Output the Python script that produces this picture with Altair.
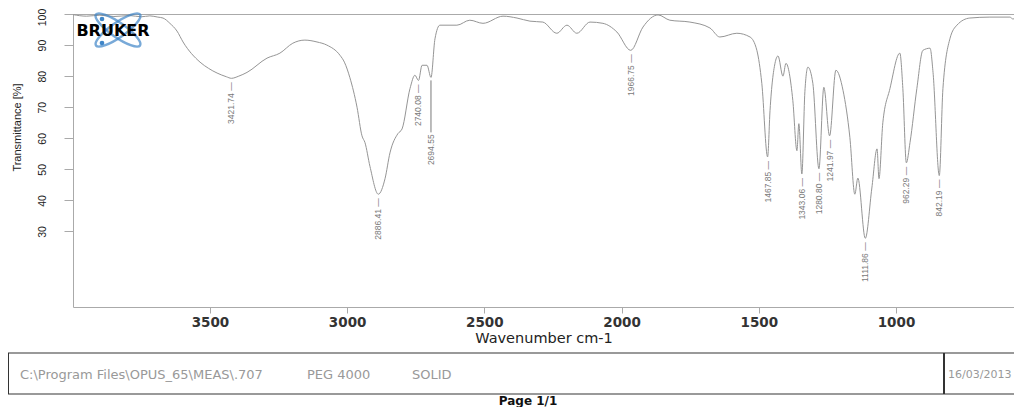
import altair as alt
import pandas as pd

# Spectrum
wavenumber = [3999, 3950, 3901, 3850, 3792, 3750, 3719, 3690, 3671, 3646, 3620, 3598,
              3536, 3505, 3474, 3440, 3421.74, 3395, 3365, 3292, 3245, 3198, 3154, 3110,
              3074, 3026, 3010, 2990, 2964, 2946, 2935, 2917, 2886.41, 2862, 2844, 2815,
              2800, 2771, 2753, 2740.08, 2727, 2709, 2694.55, 2680, 2662, 2600, 2553,
              2505, 2432, 2381, 2334, 2287, 2236, 2199, 2163, 2115, 2068, 2017, 1966.75,
              1922, 1867, 1824, 1751, 1678, 1642, 1580, 1532, 1507, 1489, 1467.85, 1459,
              1441, 1430, 1412, 1401, 1376, 1361, 1354, 1343.06, 1332, 1321, 1303,
              1280.80, 1263, 1241.97, 1219, 1193, 1168, 1150, 1139, 1111.86, 1088, 1069,
              1062, 1048, 1022, 986, 975, 962.29, 949, 924, 902, 876, 865, 842.19, 829,
              803, 778, 731, 658, 585, 574, 552]
transmittance = [99.8, 99.3, 99.6, 99.2, 99.5, 99.1, 99.4, 99.0, 98.7, 97.0, 94.5, 91.0,
                 84.5, 82.5, 81.0, 79.8, 79.3, 80.0, 81.2, 85.8, 87.4, 90.6, 91.6, 91.0,
                 90.0, 86.7, 84.5, 79.5, 70.0, 60.8, 58.6, 51.0, 42.0, 47.0, 55.3, 61.5,
                 63.0, 76.0, 80.3, 78.6, 83.5, 83.5, 79.6, 92.0, 96.4, 96.4, 98.0,
                 97.0, 99.3, 98.7, 97.7, 97.4, 93.8, 96.4, 93.8, 97.4, 97.0, 94.2, 88.3,
                 95.8, 99.7, 98.0, 97.4, 95.5, 92.6, 93.8, 92.6, 88.3, 77.7, 54.0, 69.0,
                 84.1, 86.5, 80.0, 84.1, 72.2, 56.0, 64.7, 48.5, 75.0, 82.9, 77.7,
                 50.2, 76.4, 60.8, 81.9, 75.4, 60.2, 42.0, 47.2, 27.8, 44.0, 56.6,
                 47.0, 65.0, 76.0, 87.4, 76.0, 52.1, 58.6, 76.0, 88.3, 89.0, 81.2, 48.0, 76.0,
                 92.2, 96.4, 98.7, 99.0, 99.0, 98.4, 99.3]

peak_wn = [3421.74, 2886.41, 2740.08, 1966.75, 1467.85, 1343.06, 1280.80, 1241.97,
           1111.86, 962.29, 842.19]
peak_t = [79.3, 42.0, 78.6, 88.3, 54.0, 48.5, 50.2, 60.8, 27.8, 52.1, 48.0]
peak_text = ["3421.74", "2886.41", "2740.08", "1966.75", "1467.85", "1343.06", "1280.80",
             "1241.97", "1111.86", "962.29", "842.19"]

far_wn = [2694.55]
far_t = [79.6]
far_text = ["2694.55"]

x_ticks = [3500, 3000, 2500, 2000, 1500, 1000]
y_ticks = [30, 40, 50, 60, 70, 80, 90, 100]

footer_texts = ["C:\\Program Files\\OPUS_65\\MEAS\\.707", "PEG 4000", "SOLID"]
date_text = "16/03/2013"
page_text = "Page 1/1"

NARROW = "Liberation Sans Narrow, Liberation Sans, Arial, sans-serif"
WIDE = "DejaVu Sans, Verdana, sans-serif"

spec = pd.DataFrame({"wavenumber": wavenumber, "transmittance": transmittance})
peaks = pd.DataFrame({"wavenumber": peak_wn, "transmittance": peak_t,
                      "label": [t + " \u2014" for t in peak_text]})
far = pd.DataFrame({"wavenumber": far_wn, "transmittance": far_t, "label": far_text})
one = pd.DataFrame({"a": [0]})

xscale = alt.Scale(domain=[3999, 570], nice=False, zero=False)
yscale = alt.Scale(domain=[5.7, 100], nice=False, zero=False)

xaxis = alt.Axis(values=x_ticks, format="d", grid=False, domain=False,
                 tickColor="#aaaaaa", tickSize=6, labelFont=WIDE, labelFontSize=13.5,
                 labelFontWeight="bold", labelColor="#333333", labelPadding=2,
                 title="Wavenumber cm-1", titleFont=WIDE, titleFontSize=14.5,
                 titleFontWeight="normal", titleColor="#222222",
                 titleBaseline="middle", titleY=31)
yaxis = alt.Axis(values=y_ticks, format="d", grid=False, domain=False,
                 tickColor="#aaaaaa", tickSize=9, labelFont=NARROW, labelFontSize=10.5,
                 labelColor="#222222", labelAngle=270, labelAlign="center",
                 labelBaseline="bottom", labelPadding=17,
                 labelOffset={"condition": {"test": "datum.value == 100", "value": 3}, "value": 0},
                 title="Transmittance [%]", titleFont=NARROW, titleFontSize=11,
                 titleFontWeight="normal", titleColor="#222222", titleAngle=270,
                 titleAlign="center", titleBaseline="middle", titleX=-56, titleY=113)

line = alt.Chart(spec).mark_line(color="#959595", strokeWidth=1, interpolate="monotone",
                                 clip=True).encode(
    x=alt.X("wavenumber:Q", scale=xscale, axis=xaxis),
    y=alt.Y("transmittance:Q", scale=yscale, axis=yaxis),
)

labels = alt.Chart(peaks).mark_text(
    angle=270, align="right", baseline="middle", font=NARROW, fontSize=8.5,
    color="#7a7a7a", yOffset=4
).encode(
    x=alt.X("wavenumber:Q", scale=xscale),
    y=alt.Y("transmittance:Q", scale=yscale),
    text="label:N",
)

far_rule = alt.Chart(far).mark_rule(color="#7a7a7a", strokeWidth=1, yOffset=3, y2Offset=55).encode(
    x=alt.X("wavenumber:Q", scale=xscale),
    y=alt.Y("transmittance:Q", scale=yscale),
    y2="transmittance:Q",
)
far_label = alt.Chart(far).mark_text(
    angle=270, align="right", baseline="middle", font=NARROW, fontSize=8.5,
    color="#7a7a7a", yOffset=57
).encode(
    x=alt.X("wavenumber:Q", scale=xscale),
    y=alt.Y("transmittance:Q", scale=yscale),
    text="label:N",
)

# Bruker logo
ELLIPSE = "M-1,0A1,0.27,0,1,0,1,0A1,0.27,0,1,0,-1,0Z"
logo_e1 = alt.Chart(one).mark_point(shape=ELLIPSE, filled=False, stroke="#3f86c8",
                                     strokeWidth=2.5, size=2900, angle=35).encode(
    x=alt.value(45), y=alt.value(16))
logo_e2 = alt.Chart(one).mark_point(shape=ELLIPSE, filled=False, stroke="#3f86c8",
                                     strokeWidth=2.5, size=2900, angle=145).encode(
    x=alt.value(45), y=alt.value(16))
logo_d1 = alt.Chart(one).mark_point(shape="circle", filled=True, color="#3f86c8",
                                     size=22, opacity=1).encode(x=alt.value(29), y=alt.value(5))
logo_d2 = alt.Chart(one).mark_point(shape="circle", filled=True, color="#3f86c8",
                                     size=22, opacity=1).encode(x=alt.value(29), y=alt.value(29))
logo_t = alt.Chart(one).mark_text(text="BRUKER", font=WIDE, fontSize=16, fontWeight="bold",
                                  color="#000000", align="center", baseline="middle").encode(
    x=alt.value(40), y=alt.value(17))


def hline(x1, x2, y, color, w):
    return alt.Chart(one).mark_rule(color=color, strokeWidth=w).encode(
        x=alt.value(x1), x2=alt.value(x2), y=alt.value(y))


def vline(x, y1, y2, color, w):
    return alt.Chart(one).mark_rule(color=color, strokeWidth=w).encode(
        x=alt.value(x), y=alt.value(y1), y2=alt.value(y2))


footer = [
    hline(-65, 945, 339, "#777777", 1.5),
    hline(-65, 945, 380, "#777777", 1.5),
    vline(-65, 339, 380, "#333333", 2),
    vline(871, 339, 380, "#333333", 2),
]
foot_x = [-53, 234, 339]
for t, fx in zip(footer_texts, foot_x):
    footer.append(alt.Chart(one).mark_text(text=t, font=WIDE, fontSize=13, color="#999999",
                                           align="left", baseline="middle").encode(
        x=alt.value(fx), y=alt.value(361)))
footer.append(alt.Chart(one).mark_text(text=date_text, font=WIDE, fontSize=11, color="#999999",
                                       align="left", baseline="middle").encode(
    x=alt.value(875), y=alt.value(361)))
footer.append(alt.Chart(one).mark_text(text=page_text, font=WIDE, fontSize=12, fontWeight="bold",
                                       color="#111111", align="center", baseline="middle").encode(
    x=alt.value(455), y=alt.value(387)))

chart = alt.layer(line, labels, far_rule, far_label, logo_e1, logo_e2, logo_d1, logo_d2, logo_t,
                  *footer).properties(
    width=941, height=293,
    autosize=alt.AutoSizeParams(type="none"),
    padding={"left": 65, "top": 6, "right": 0, "bottom": 100},
).configure_view(stroke="#aaaaaa", strokeWidth=1)

chart.save("out.html", embed_options={"renderer": "svg", "actions": False})
